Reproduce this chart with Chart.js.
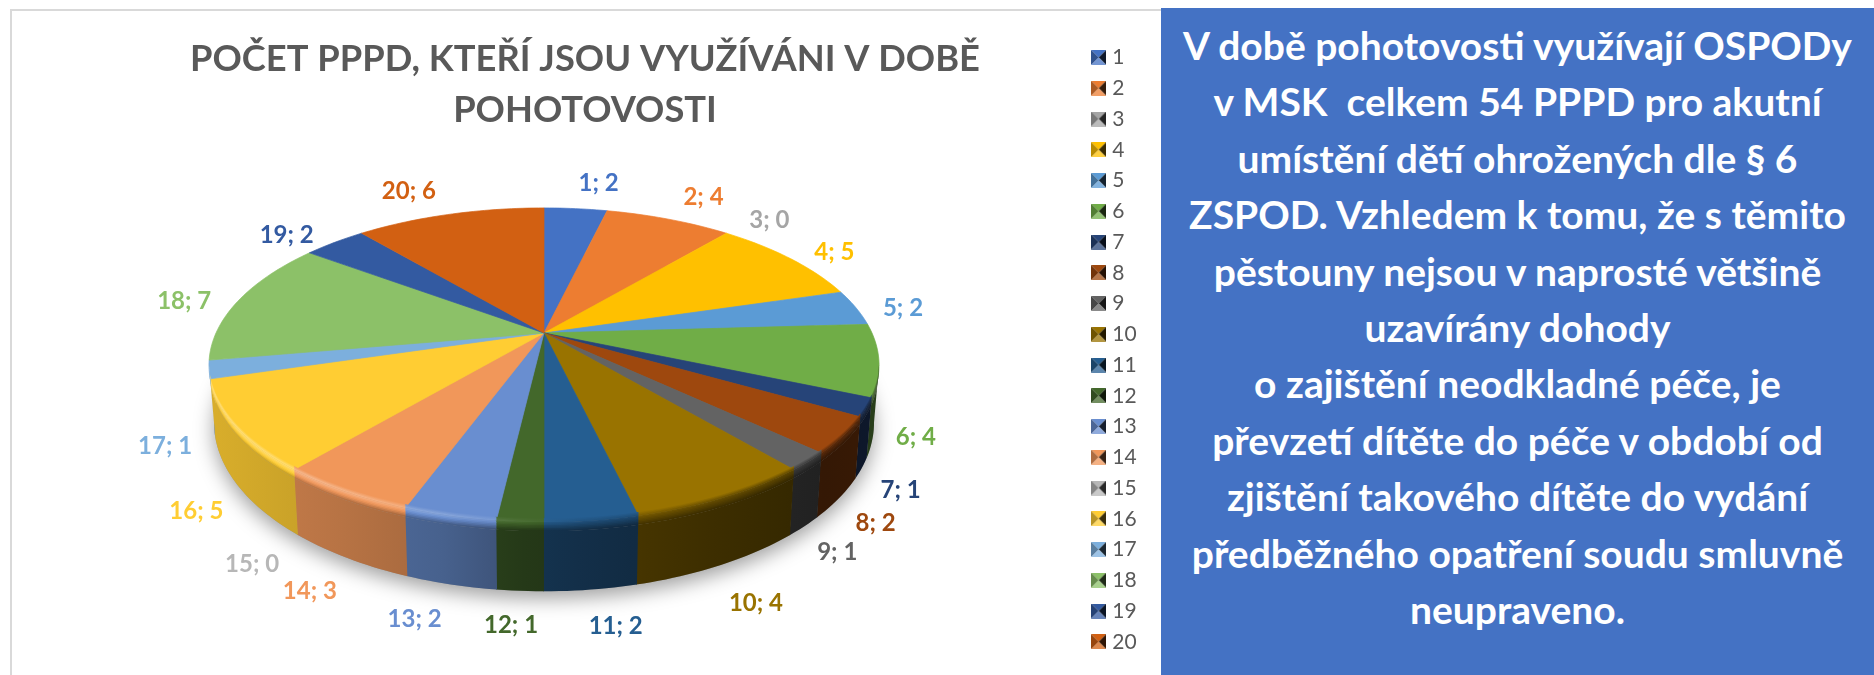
<!DOCTYPE html>
<html lang="cs"><head><meta charset="utf-8">
<script src="https://cdn.jsdelivr.net/npm/chart.js@4"></script>
<style>
html,body{margin:0;padding:0;background:#fff;width:1874px;height:675px;overflow:hidden}
#box{position:absolute;left:10px;top:9px;width:1151px;height:666px;border-left:2px solid #d9d9d9;border-top:2px solid #d9d9d9;box-sizing:border-box}
#c{position:absolute;left:-2px;top:-2px}
#panel{position:absolute;left:1161px;top:8px;width:713px;height:667px;background:#4472C4;color:#fff;font:700 39px/56.4px Lato,sans-serif;text-align:center;white-space:nowrap;padding-top:9px;box-sizing:border-box}
</style></head><body>
<div id="box"><canvas id="c" width="1150" height="666"></canvas></div>
<div id="panel">V době pohotovosti využívají OSPODy<br>v MSK&nbsp; celkem 54 PPPD pro akutní<br>umístění dětí ohrožených dle § 6<br>ZSPOD. Vzhledem k tomu, že s těmito<br>pěstouny nejsou v naprosté většině<br>uzavírány dohody<br>o zajištění neodkladné péče, je<br>převzetí dítěte do péče v období od<br>zjištění takového dítěte do vydání<br>předběžného opatření soudu smluvně<br>neupraveno.</div>
<script>
const categories = ['1','2','3','4','5','6','7','8','9','10','11','12','13','14','15','16','17','18','19','20'];
const values = [2,4,0,5,2,4,1,2,1,4,2,1,2,3,0,5,1,7,2,6];
const colors = ['#4472C4','#ED7D31','#A5A5A5','#FFC000','#5B9BD5','#70AD47','#264478','#9E480E','#636363','#997300','#255E91','#43682B','#698ED0','#F1975A','#B7B7B7','#FFCD33','#7CAFDD','#8CC168','#335AA1','#D26012'];
const titleLines = ['POČET PPPD, KTEŘÍ JSOU VYUŽÍVÁNI V DOBĚ','POHOTOVOSTI'];
const labelNudgeX = [23,35,43,44,47,37,34,32,29,32,24,-9,-35,-35,-42,-39,-44,-55,-48,-41];
const labelNudgeY = [-25,-22,-13,-6,1,77,83,88,91,106,106,104,104,100,95,85,77,1,-7,-23];

const pieCenterX = 534, pieCenterY = 324, pieRadius = 328;
const perspective = -0.2038, tilt = 0.459, depth = 0.168, bottomShrink = 0.015;
const legendLeft = 1076;
const FONT = 'Lato, sans-serif';

function rgb(hex){return [1,3,5].map(i=>parseInt(hex.substr(i,2),16));}
function shade(hex,f){return 'rgb('+rgb(hex).map(c=>f<=1?Math.round(c*f):Math.round(c+(255-c)*(f-1))).join(',')+')';}
function project(el,a,z){
  const u=Math.cos(a), v=Math.sin(a), den=1+perspective*v, r=el.outerRadius;
  return [el.x+r*u/den*(1-bottomShrink*Math.max(z,0)), el.y+(r*tilt*v+r*depth*z)/den];
}
function arcPath(ctx,el,a0,a1,z,first){
  const n=Math.max(2,Math.ceil(Math.abs(a1-a0)/0.02));
  for(let i=0;i<=n;i++){const p=project(el,a0+(a1-a0)*i/n,z);
    if(i===0&&first)ctx.moveTo(p[0],p[1]);else ctx.lineTo(p[0],p[1]);}
}
class PerspectiveArc extends Chart.ArcElement{
  static id='perspectiveArc';
  draw(ctx){
    if(this.endAngle-this.startAngle<=0)return;
    ctx.save();
    ctx.fillStyle=ctx.strokeStyle=this.options.backgroundColor;ctx.lineWidth=.7;
    ctx.beginPath();ctx.moveTo(this.x,this.y);
    arcPath(ctx,this,this.startAngle,this.endAngle,0,false);
    ctx.closePath();ctx.fill();ctx.stroke();ctx.restore();
  }
}
class PerspectivePie extends Chart.PieController{
  static id='perspectivePie';
  static defaults={...Chart.PieController.defaults,dataElementType:'perspectiveArc'};
  static overrides=Chart.PieController.overrides;
}
Chart.register(PerspectiveArc,PerspectivePie);

// horizontal light falloff across the pie
const stopT=[0,.2,.35,.47,.55,.75,.92,1];
const wallF=[.85,.76,.68,.55,.5,.4,.33,.36];
const rimF=[1.4,1.3,1.22,1.05,.9,.7,.6,.6];
const baseF=stopT.map(()=>1);
function grad(ctx,el,hex,a,b,s){
  const g=ctx.createLinearGradient(el.x-el.outerRadius*1.02,0,el.x+el.outerRadius*1.02,0);
  stopT.forEach((t,i)=>g.addColorStop(t,shade(hex,a[i]*(1-s)+b[i]*s)));
  return g;
}
const tangent=Math.asin(-perspective);
const rimTop=-0.055, rimBottom=0.13, rimSteps=6;
const sidePlugin={
  id:'side',
  afterLayout(chart){
    const ca=chart.chartArea;
    ca.left=pieCenterX-pieRadius;ca.right=pieCenterX+pieRadius;
    ca.top=pieCenterY-pieRadius;ca.bottom=pieCenterY+pieRadius;
    ca.width=ca.height=pieRadius*2;
    const t=chart.titleBlock;t.left=0;t.right=chart.width;t.width=chart.width;
    chart.legend.left=legendLeft;chart.legend.top-=13;chart.legend.bottom-=13;
  },
  beforeDatasetsDraw(chart){
    const ctx=chart.ctx,el=chart.getDatasetMeta(0).data[0];
    ctx.save();ctx.shadowColor='rgba(0,0,0,.38)';ctx.shadowBlur=20;ctx.shadowOffsetY=7;ctx.fillStyle='#999';
    ctx.beginPath();arcPath(ctx,el,0,Math.PI*2,1,true);ctx.closePath();ctx.fill();ctx.restore();
  },
  afterDatasetsDraw(chart){
    const ctx=chart.ctx,meta=chart.getDatasetMeta(0);
    ctx.save();
    const band=(el,a0,a1,z0,z1,style)=>{
      ctx.fillStyle=style;ctx.beginPath();
      arcPath(ctx,el,a0,a1,z0,true);arcPath(ctx,el,a1,a0,z1,false);
      ctx.closePath();ctx.fill();
    };
    meta.data.forEach(el=>{
      if(el.endAngle<=el.startAngle)return;
      const a0=Math.max(el.startAngle,tangent),a1=Math.min(el.endAngle+0.002,Math.PI-tangent);
      if(a1<=a0)return;
      const hex=el.options.backgroundColor;
      band(el,a0,a1,rimBottom,1,grad(ctx,el,hex,wallF,wallF,0));
      // soft bevel along the front rim: top colour, highlight, wall colour
      const mid=rimSteps;
      for(let i=0;i<mid;i++){
        const z0=rimTop*(1-i/mid),z1=rimTop*(1-(i+1.6)/mid);
        band(el,a0,a1,z0,Math.min(z1,0),grad(ctx,el,hex,baseF,rimF,(i+1)/mid));
      }
      for(let i=0;i<mid;i++){
        const z0=rimBottom*i/mid,z1=Math.min(rimBottom*(i+1.6)/mid,rimBottom+.004);
        band(el,a0,a1,z0,z1,grad(ctx,el,hex,rimF,wallF,(i+1)/mid));
      }
    });
    // data labels
    ctx.font='700 24px '+FONT;ctx.textAlign='center';ctx.textBaseline='middle';
    meta.data.forEach((el,i)=>{
      const p=project(el,(el.startAngle+el.endAngle)/2,0);
      ctx.fillStyle=colors[i];
      ctx.fillText(categories[i]+'; '+values[i],p[0]+labelNudgeX[i],p[1]+labelNudgeY[i]);
    });
    ctx.restore();
  }
};
function swatch(hex){
  const s=document.createElement('canvas');s.width=15;s.height=15;const c=s.getContext('2d');
  const tri=(pts,col)=>{c.fillStyle=col;c.beginPath();pts.forEach((p,i)=>i?c.lineTo(p[0],p[1]):c.moveTo(p[0],p[1]));c.closePath();c.fill();};
  tri([[0,0],[15,0],[7.5,7.5]],shade(hex,1));
  tri([[0,0],[0,15],[7.5,7.5]],shade(hex,.72));
  tri([[15,0],[15,15],[7.5,7.5]],shade(hex,.22));
  tri([[0,15],[15,15],[7.5,7.5]],shade(hex,1.25));
  return s;
}
new Chart(document.getElementById('c'),{
  type:'perspectivePie',
  data:{labels:categories,datasets:[{data:values,backgroundColor:colors,borderWidth:0}]},
  options:{
    responsive:false,animation:false,rotation:0,
    plugins:{
      title:{display:true,text:titleLines,color:'#595959',fullSize:false,font:{family:FONT,size:36.3,weight:'700',lineHeight:1.39},padding:{top:25.5,bottom:0}},
      legend:{position:'right',align:'end',labels:{
        color:'#595959',font:{family:FONT,size:21},usePointStyle:true,boxWidth:6,boxHeight:15,pointStyleWidth:6,padding:9.75,
        generateLabels:ch=>categories.map((t,i)=>({text:t,fillStyle:colors[i],strokeStyle:colors[i],lineWidth:0,pointStyle:swatch(colors[i]),index:i,fontColor:'#595959'}))
      }},
      tooltip:{enabled:false}
    }
  },
  plugins:[sidePlugin]
});
</script></body></html>
